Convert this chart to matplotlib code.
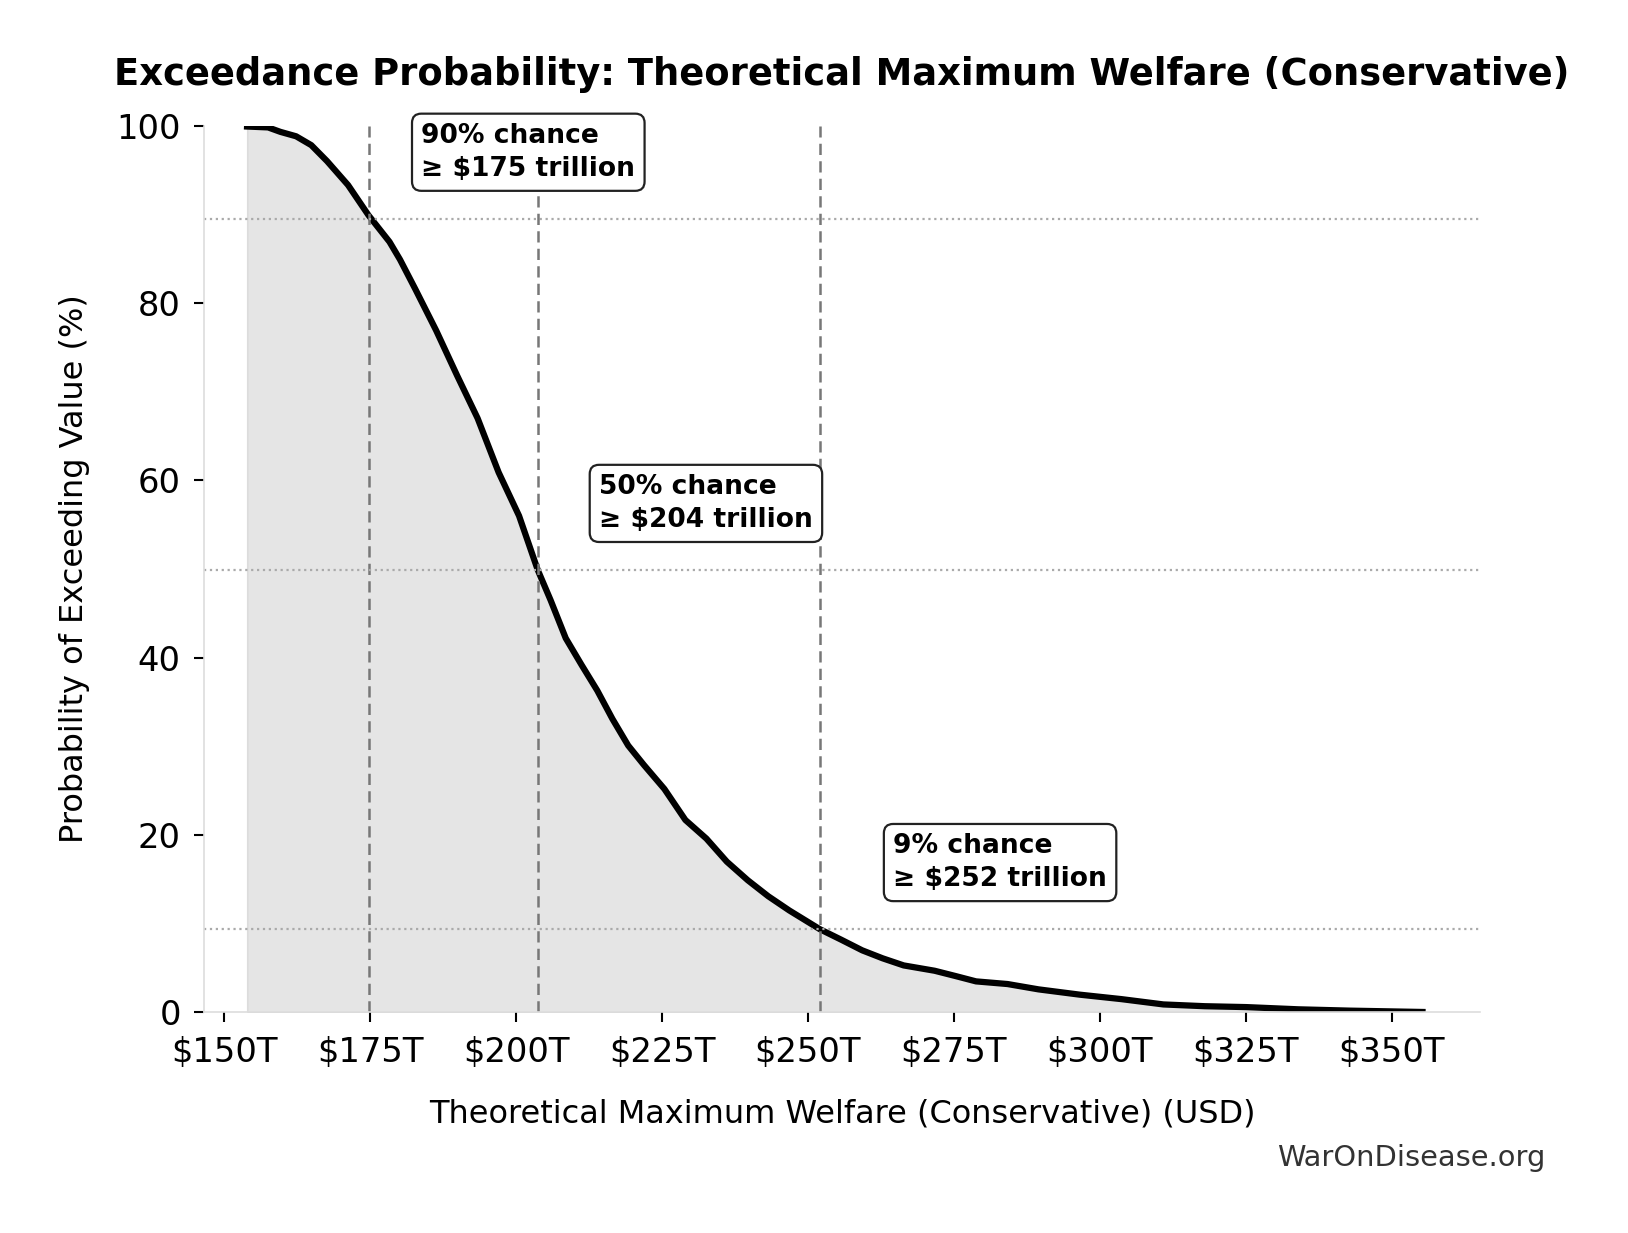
import matplotlib
matplotlib.use("Agg")
import matplotlib.pyplot as plt
from matplotlib.ticker import FuncFormatter

# Exceedance curve (value in $T, exceedance probability in %)
welfare_t = [153.9, 157.5, 159.6, 162.3, 164.9, 167.6, 171.2, 174.7, 178.3, 180.1,
             182.7, 186.3, 189.9, 193.4, 197.0, 200.5, 203.7, 205.9, 208.5, 211.2,
             213.9, 216.5, 219.2, 221.9, 225.4, 229.0, 232.6, 236.1, 239.7, 243.2,
             246.8, 252.0, 255.7, 259.3, 262.8, 266.4, 271.7, 275.3, 278.8, 284.2,
             289.5, 296.6, 303.7, 310.9, 318.0, 325.1, 334.0, 342.9, 355.3]
exceed_pct = [99.9, 99.8, 99.3, 98.8, 97.8, 96.0, 93.3, 89.9, 86.9, 84.9,
              81.6, 76.9, 71.8, 67.0, 60.9, 56.0, 49.9, 46.5, 42.2, 39.2,
              36.3, 33.1, 30.1, 27.9, 25.2, 21.7, 19.6, 17.0, 14.9, 13.1,
              11.5, 9.4, 8.2, 7.0, 6.1, 5.3, 4.7, 4.1, 3.5, 3.2,
              2.6, 2.0, 1.5, 0.9, 0.7, 0.6, 0.35, 0.2, 0.05]

# Marked thresholds
marker_values = [174.8, 203.8, 252.0]
marker_pcts = [89.5, 49.9, 9.4]
marker_labels = ["90% chance\n≥ \\$175 trillion",
                 "50% chance\n≥ \\$204 trillion",
                 "9% chance\n≥ \\$252 trillion"]
label_values = [175, 204, 252]

x_ticks = [150, 175, 200, 225, 250, 275, 300, 325, 350]
y_ticks = [0, 20, 40, 60, 80, 100]

fig = plt.figure(figsize=(16.28, 12.33), dpi=100)
ax = fig.add_axes([0.1256, 0.1789, 0.7833, 0.7192])

ax.fill_between(welfare_t, exceed_pct, 0, color="gray", alpha=0.2)
ax.plot(welfare_t, exceed_pct, color="black", lw=4.5, solid_joinstyle="round")

for v, p, lab, lv in zip(marker_values, marker_pcts, marker_labels, label_values):
    ax.axvline(v, color="#777777", ls="--", lw=1.8, dashes=(4.5, 2.5))
    ax.axhline(p, color="#aaaaaa", ls=":", lw=1.6)
    ax.text(lv * 1.05, p + 7.5, lab, ha="left", va="center",
            fontsize=19.1, fontweight="bold", clip_on=False, linespacing=1.33,
            bbox=dict(boxstyle="round,pad=0.35", facecolor="white",
                      edgecolor="#222222", lw=1.6))

ax.set_xlim(146.6, 365.1)
ax.set_ylim(0, 100)
ax.set_xticks(x_ticks)
ax.set_yticks(y_ticks)
ax.xaxis.set_major_formatter(FuncFormatter(lambda v, p: f"${v:.0f}T"))
ax.tick_params(axis="both", labelsize=24.3, length=7, width=1.5, color="black", pad=10)

for s in ["top", "right"]:
    ax.spines[s].set_visible(False)
for s in ["left", "bottom"]:
    ax.spines[s].set_color("#dddddd")
    ax.spines[s].set_linewidth(1.2)

ax.set_xlabel("Theoretical Maximum Welfare (Conservative) (USD)", fontsize=23, labelpad=21)
ax.set_ylabel("Probability of Exceeding Value (%)", fontsize=23, labelpad=19)
ax.set_title("Exceedance Probability: Theoretical Maximum Welfare (Conservative)",
             fontsize=26.6, fontweight="bold", pad=29)

fig.text(0.949, 0.061, "WarOnDisease.org", ha="right", va="center",
         fontsize=20.8, color="#333333")

fig.savefig("out.png", dpi=100)
